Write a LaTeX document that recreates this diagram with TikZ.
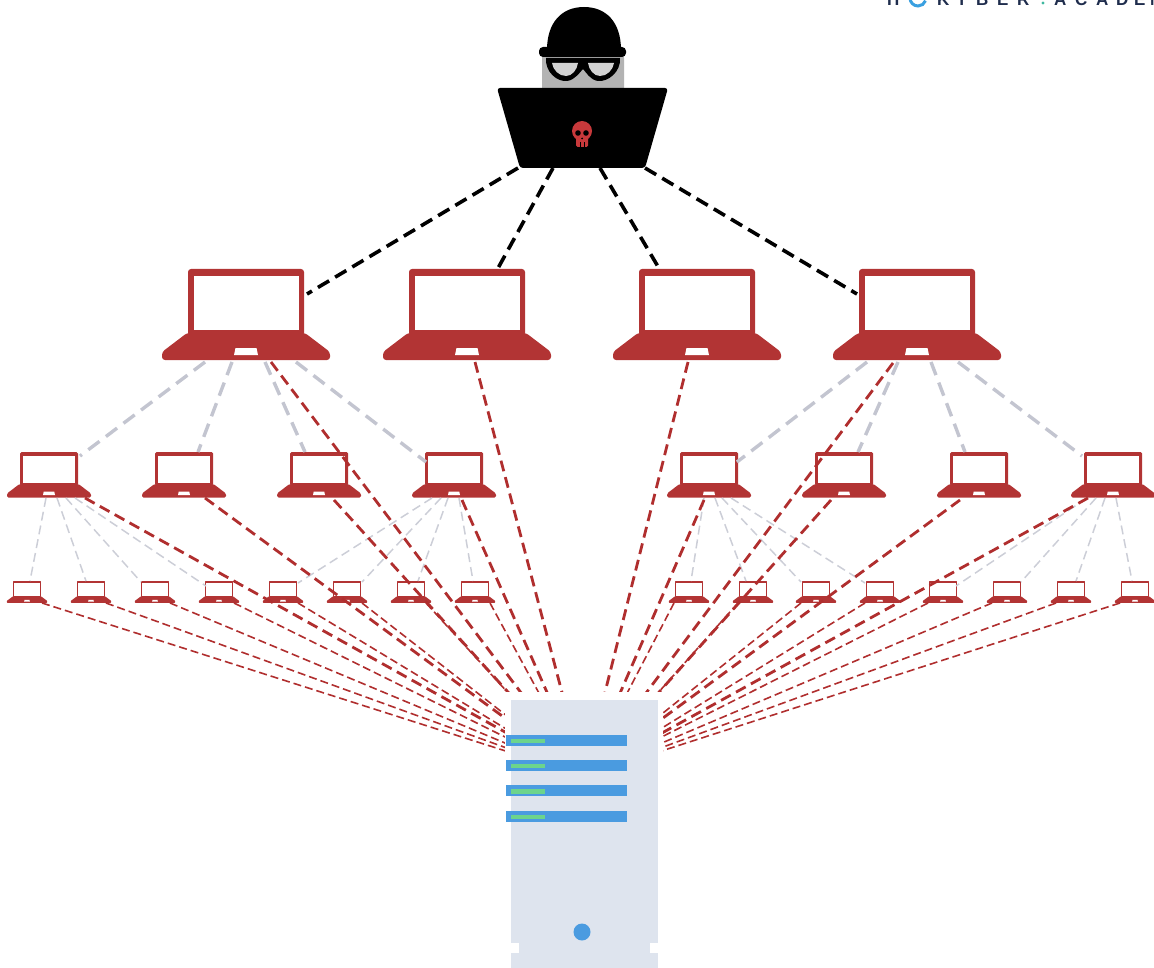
\documentclass[tikz,border=0pt]{standalone}
\usepackage{fontspec}
\newfontfamily\logofont{Liberation Sans}
\usetikzlibrary{calc}

\definecolor{lapred}{HTML}{B23434}
\definecolor{linkred}{HTML}{B02E2E}
\definecolor{meshgray}{HTML}{C3C5D0}
\definecolor{srvbody}{HTML}{DEE4EE}
\definecolor{srvbar}{HTML}{4A9BE0}
\definecolor{srvled}{HTML}{6CD48C}
\definecolor{headgray}{HTML}{B3B3B3}
\definecolor{lensgray}{HTML}{D2D2D2}
\definecolor{skullred}{HTML}{C8393B}
\definecolor{logonavy}{HTML}{1F2D4D}
\definecolor{logoblue}{HTML}{3AA0E0}
\definecolor{logoteal}{HTML}{3FB8A0}

\tikzset{
  pics/laptop/.style={code={
    \fill[lapred, rounded corners=#1] (-58,0) rectangle (58,67);
    \fill[white] (-52.5,7) rectangle (52.5,61);
    \fill[lapred, rounded corners=#1] (-59,64) -- (59,64) -- (84,83) -- (84,91) -- (-84,91) -- (-84,83) -- cycle;
    \fill[white] (-10.5,79) -- (10.5,79) -- (12,86) -- (-12,86) -- cycle;
  }},
  pics/laptop/.default=3,
  blacklink/.style={draw=black, line width=3.6pt, dash pattern=on 13pt off 7pt},
  graylink/.style={draw=meshgray, line width=3.4pt, dash pattern=on 14pt off 8pt},
  graythin/.style={draw=meshgray!85, line width=1.5pt, dash pattern=on 9pt off 5pt},
  redthick/.style={draw=linkred, line width=2.8pt, dash pattern=on 11pt off 6pt},
  redthin/.style={draw=linkred, line width=1.6pt, dash pattern=on 8pt off 4pt},
}

\begin{document}
\begin{tikzpicture}[x=1pt,y=-1pt]
\useasboundingbox (0,0) rectangle (1154,968);
\clip (0,0) rectangle (1154,968);

% anchor points of the machines
\coordinate (H) at (582,88);
\foreach \n/\x in {1/246,2/467,3/697,4/917}
  \coordinate (B\n) at (\x,269);
\foreach \n/\x in {1/49,2/184,3/319,4/454,5/709,6/844,7/979,8/1113}
  \coordinate (M\n) at (\x,452);
\foreach \n/\x in {1/27,2/91,3/155,4/219,5/283,6/347,7/411,8/475,
                   9/689,10/753,11/816,12/880,13/943,14/1007,15/1071,16/1135}
  \coordinate (S\n) at (\x,581);
\coordinate (hub) at (584,776);

% bots
\foreach \n in {1,...,4} \pic at (B\n) {laptop=3};
\foreach \n in {1,...,8} \pic[scale=0.5] at (M\n) {laptop=1.5};
\foreach \n in {1,...,16} \pic[scale=0.24] at (S\n) {laptop=0.6};

% recruitment links (grey)
\foreach \a/\ax/\b/\bx/\by in {B1/-41/M1/31/4, B1/-14/M2/14/0, B1/19/M3/-14/0, B1/50/M4/-28/10,
                               B4/41/M8/-31/4, B4/14/M7/-14/0, B4/-19/M6/14/0, B4/-50/M5/28/10}
  \draw[graylink] ($(\a)+(\ax,93)$) -- ($(\b)+(\bx,\by)$);
\foreach \a/\ax/\b/\bx/\by in {M1/-3/S1/3/0, M1/8/S2/-5/0, M1/17/S3/-14/1, M1/26/S4/-13/5,
                               M4/-22/S5/15/2, M4/-13/S6/15/1, M4/-6/S7/7/0, M4/5/S8/-2/0,
                               M5/22/S12/-15/2, M5/13/S11/-15/1, M5/6/S10/-7/0, M5/-5/S9/2/0,
                               M8/3/S16/-3/0, M8/-8/S15/5/0, M8/-17/S14/14/1, M8/-26/S13/13/5}
  \draw[graythin] ($(\a)+(\ax,46)$) -- ($(\b)+(\bx,\by)$);

% command links (black)
\draw[blacklink] ($(H)+(-64,80)$) -- ($(B1)+(61,25)$);
\draw[blacklink] ($(H)+(-29,80)$) -- ($(B2)+(30,1)$);
\draw[blacklink] ($(H)+(18,80)$) -- ($(B3)+(-37,1)$);
\draw[blacklink] ($(H)+(63,80)$) -- ($(B4)+(-60,25)$);

% attack traffic (red), all aimed at the target
\foreach \p/\dx/\dy in {B1/25/93, B2/8/93, B3/-9/93, B4/-24/94,
                        M1/36/46, M2/21/46, M3/15/48, M4/8/48,
                        M5/-5/48, M6/-13/48, M7/-19/48, M8/-25/46}
  \draw[redthick] ($(\p)+(\dx,\dy)$) -- (hub);
\foreach \n in {1,...,8}  \draw[redthin] ($(S\n)+(15,22)$) -- (hub);
\foreach \n in {9,...,16} \draw[redthin] ($(S\n)+(-15,22)$) -- (hub);

% clear margin around the server
\fill[white] (505,692) rectangle (663,968);

% server
\node[fill=srvbody, draw=none, inner sep=0pt, minimum width=147pt, minimum height=268pt] (srv) at (584.5,834) {};
\foreach \dy in {35,60,85.5,111} {
  \fill[srvbar] ($(srv.north west)+(-5,\dy)$) rectangle +(121,11);
  \fill[srvled] ($(srv.north west)+(0,\dy+4)$) rectangle +(34,4.5);
}
\fill[srvbar] (582,932) circle (8.5);
\fill[white] ($(srv.north west)+(0,243)$) rectangle +(8,10);
\fill[white] ($(srv.north east)+(-8,243)$) rectangle +(8,10);

% attacker
\fill[headgray, rounded corners=6] (542,52) rectangle (624,100);
\fill[black] (547,50) .. controls (547,22) and (562,7) .. (584,7)
             .. controls (606,7) and (621,22) .. (621,50) -- cycle;
\fill[black, rounded corners=4] (539,47) rectangle (626,57);
\fill[black] (546,58) -- (620,58) .. controls (621,72) and (608,82) .. (598,81)
             .. controls (590,80) and (586,72) .. (583,69)
             .. controls (580,72) and (575,80) .. (567,81)
             .. controls (557,82) and (545,72) .. (546,58) -- cycle;
\fill[lensgray] (552,63) -- (578,63) .. controls (577,70) and (572,76) .. (566,76)
                .. controls (559,76) and (553,70) .. (552,63) -- cycle;
\fill[lensgray] (588,63) -- (614,63) .. controls (613,70) and (607,76) .. (600,76)
                .. controls (594,76) and (589,70) .. (588,63) -- cycle;
\fill[black, rounded corners=3] (H) ++(-85,0) -- ++(171,0) -- (645,168) -- (520,168) -- cycle;
% skull
\fill[skullred] (582,131) circle (10);
\fill[skullred, rounded corners=1.5] (576,135) rectangle (588,147);
\fill[black] (578,133) circle (2.8);
\fill[black] (586,133) circle (2.8);
\fill[black] (582,138.5) circle (1);
\draw[black, line width=0.7pt] (580,142.5) -- (580,147) (584,142.5) -- (584,147);

% logo fragment at the upper edge
\begin{scope}
  \clip (840,0) rectangle (1154,12);
  \foreach \c/\x in {H/887,K/937,Y/956,B/976,E/997,R/1017,A/1054,C/1075,A/1096,D/1116,E/1134,M/1150}
    \node[anchor=base west, inner sep=0pt, text=logonavy,
          font=\logofont\bfseries\fontsize{17}{17}\selectfont] at (\x,6) {\c};
  \draw[logoblue, line width=3pt] (910,-2) arc[start angle=180, end angle=20, radius=8];
  \fill[logoteal] (1043,3) circle (1.6);
\end{scope}
\end{tikzpicture}
\end{document}
